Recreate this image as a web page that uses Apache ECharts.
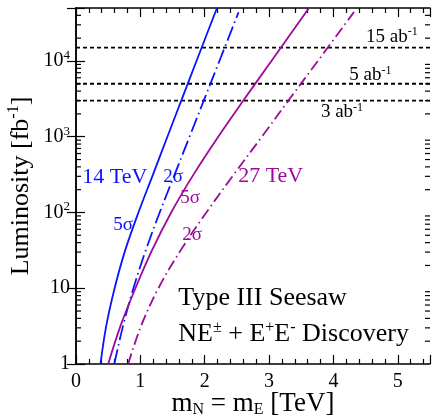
<!DOCTYPE html>
<html>
<head>
<meta charset="utf-8">
<script src="https://cdn.jsdelivr.net/npm/echarts@6/dist/echarts.min.js"></script>
<style>
  html, body { margin: 0; padding: 0; background: #fff; }
  #chart { width: 432px; height: 419px; }
</style>
</head>
<body>
<div id="chart"></div>
<script>
// discovery reach, [m (TeV), luminosity (fb^-1)]
const blue5sigma = [[0.38,1],[0.469,3.16],[0.60,10],[0.764,31.6],[0.97,100],[1.196,316],[1.42,1000],[1.646,3162],[1.872,10000],[2.19,50000]];
const blue2sigma = [[0.595,1],[0.73,3.16],[0.892,10],[1.083,31.6],[1.30,100],[1.532,316],[1.764,1000],[1.996,3162],[2.228,10000],[2.526,44000]];
const purple5sigma = [[0.50,1],[0.69,3.16],[0.923,10],[1.18,31.6],[1.479,100],[1.825,316],[2.21,1000],[2.619,3162],[3.036,10000],[3.62,50000]];
const purple2sigma = [[0.81,1],[1.01,3.16],[1.28,10],[1.625,31.6],[2.025,100],[2.45,316],[2.888,1000],[3.32,3162],[3.757,10000],[4.32,44400]];

// luminosity benchmarks (fb^-1) and their labels (ab^-1)
const lumiLines = [15000, 5000, 3000];
const lumiLabels = ['15', '5', '3'];

// log minor ticks
const minorLumi = [2,3,4,5,6,7,8,9,20,30,40,50,60,70,80,90,200,300,400,500,600,700,800,900,
  2000,3000,4000,5000,6000,7000,8000,9000,20000,30000,40000];

const BLUE = '#0a14ff';
const PURPLE = '#9c0a9c';
const FONT = 'Liberation Serif';

const chart = echarts.init(document.getElementById('chart'));

const supRich = {
  b: { fontFamily: FONT, fontSize: 20, color: '#000' },
  s: { fontFamily: FONT, fontSize: 13, color: '#000', padding: [0, 0, 11, 0] }
};

function lumiLabel(v) {
  const e = Math.log10(v);
  const r = Math.round(e);
  if (Math.abs(e - r) > 1e-6) return '';
  if (r === 0) return '{b|1}';
  if (r === 1) return '{b|10}';
  return '{b|10}{s|' + r + '}';
}

const lineSeries = (name, data, color, type) => ({
  name: name,
  type: 'line',
  data: data,
  showSymbol: false,
  smooth: 0.35,
  clip: true,
  lineStyle: { color: color, width: 1.8, type: type },
  z: 3
});

const option = {
  animation: false,
  grid: { left: 76, right: 2, top: 8, bottom: 55, outerBoundsMode: 'none' },
  xAxis: [
    {
      type: 'value', min: 0, max: 5.5, interval: 1,
      axisLine: { show: true, lineStyle: { color: '#000', width: 1.5 } },
      axisTick: { inside: true, length: 9, lineStyle: { color: '#000', width: 1.2 } },
      minorTick: { show: true, splitNumber: 5, length: 5, lineStyle: { color: '#000', width: 1.2 } },
      splitLine: { show: false },
      axisLabel: {
        fontFamily: FONT, fontSize: 20, color: '#000', margin: 8,
        showMaxLabel: false,
        formatter: v => (Number.isInteger(v) ? String(v) : '')
      },
      name: '{b|m}{s|N}{b| = m}{s|E}{b| [TeV]}',
      nameLocation: 'middle', nameGap: 26, nameMoveOverlap: false,
      nameTextStyle: {
        rich: {
          b: { fontFamily: FONT, fontSize: 27, color: '#000' },
          s: { fontFamily: FONT, fontSize: 16, color: '#000', padding: [12, 0, 0, 0] }
        }
      }
    },
    {
      type: 'value', min: 0, max: 5.5, interval: 1, position: 'top',
      axisLine: { show: true, lineStyle: { color: '#000', width: 1.5 } },
      axisTick: { inside: true, length: 9, lineStyle: { color: '#000', width: 1.2 } },
      minorTick: { show: true, splitNumber: 5, length: 5, lineStyle: { color: '#000', width: 1.2 } },
      splitLine: { show: false },
      axisLabel: { show: false }
    }
  ],
  yAxis: [
    {
      type: 'log', logBase: 10, min: 1, max: 50000,
      axisLine: { show: true, lineStyle: { color: '#000', width: 1.5 } },
      axisTick: { inside: true, length: 9, lineStyle: { color: '#000', width: 1.2 } },
      splitLine: { show: false },
      axisLabel: { margin: 6, formatter: lumiLabel, rich: supRich },
      name: '{b|Luminosity [fb}{s|-1}{b|]}',
      nameLocation: 'middle', nameGap: 40, nameRotate: 90, nameMoveOverlap: false,
      nameTextStyle: {
        rich: {
          b: { fontFamily: FONT, fontSize: 26, color: '#000' },
          s: { fontFamily: FONT, fontSize: 16, color: '#000', padding: [0, 0, 14, 0] }
        }
      }
    },
    {
      type: 'log', logBase: 10, min: 1, max: 50000, position: 'right',
      axisLine: { show: true, lineStyle: { color: '#000', width: 1.5 } },
      axisTick: { inside: true, length: 9, lineStyle: { color: '#000', width: 1.2 } },
      splitLine: { show: false },
      axisLabel: { show: false }
    }
  ],
  series: [
    {
      type: 'custom',
      data: minorLumi.map(v => [0, v]),
      renderItem: (params, api) => {
        const l = api.coord([0, api.value(1)]);
        const r = api.coord([5.5, api.value(1)]);
        const st = { stroke: '#000', lineWidth: 1.2 };
        return {
          type: 'group',
          children: [
            { type: 'line', shape: { x1: l[0], y1: l[1], x2: l[0] + 5, y2: l[1] }, style: st },
            { type: 'line', shape: { x1: r[0] - 5, y1: r[1], x2: r[0], y2: r[1] }, style: st }
          ]
        };
      },
      clip: false,
      silent: true
    },
    ...lumiLines.map(v => ({
      type: 'line',
      data: [[0, v], [5.5, v]],
      showSymbol: false,
      lineStyle: { color: '#000', width: 1.8, type: [4, 3] },
      z: 2
    })),
    lineSeries('14 TeV 5s', blue5sigma, BLUE, 'solid'),
    lineSeries('14 TeV 2s', blue2sigma, BLUE, [15, 4, 1.5, 4]),
    lineSeries('27 TeV 5s', purple5sigma, PURPLE, 'solid'),
    lineSeries('27 TeV 2s', purple2sigma, PURPLE, [11, 4, 1.5, 4])
  ]
};

chart.setOption(option);

// annotations, anchored at data coordinates
const annotations = [
  { at: [0.098, 293], text: '14 TeV', color: BLUE, size: 22 },
  { at: [1.355, 293], text: '2σ', color: BLUE, size: 19 },
  { at: [0.58, 69], text: '5σ', color: BLUE, size: 19 },
  { at: [2.52, 298], text: '27 TeV', color: PURPLE, size: 22 },
  { at: [1.62, 157], text: '5σ', color: PURPLE, size: 19 },
  { at: [1.65, 51], text: '2σ', color: PURPLE, size: 19 },
  { at: [1.59, 7.3], text: 'Type III Seesaw', color: '#000', size: 26 },
  { at: [1.59, 2.5], text: '{b|NE}{s|±}{b| + E}{s|+}{b|E}{s|-}{b| Discovery}', color: '#000', size: 26 }
];
const abAnchors = [[5.31, 20500], [4.90, 6450], [4.46, 2090]];

const graphics = annotations.map(a => {
  const p = chart.convertToPixel({ gridIndex: 0 }, a.at);
  return {
    type: 'text', x: p[0], y: p[1], z: 10,
    style: {
      text: a.text, fill: a.color, font: a.size + 'px "' + FONT + '"',
      align: 'left', verticalAlign: 'middle',
      rich: {
        b: { fontFamily: FONT, fontSize: a.size, fill: a.color },
        s: { fontFamily: FONT, fontSize: 16, fill: a.color, padding: [0, 0, 13, 0] }
      }
    }
  };
});
lumiLabels.forEach((lab, i) => {
  const p = chart.convertToPixel({ gridIndex: 0 }, abAnchors[i]);
  graphics.push({
    type: 'text', x: p[0], y: p[1], z: 10,
    style: {
      text: '{b|' + lab + ' ab}{s|-1}', align: 'right', verticalAlign: 'middle',
      rich: {
        b: { fontFamily: FONT, fontSize: 19, fill: '#000' },
        s: { fontFamily: FONT, fontSize: 12, fill: '#000', padding: [0, 0, 10, 0] }
      }
    }
  });
});
chart.setOption({ graphic: graphics });
</script>
</body>
</html>
